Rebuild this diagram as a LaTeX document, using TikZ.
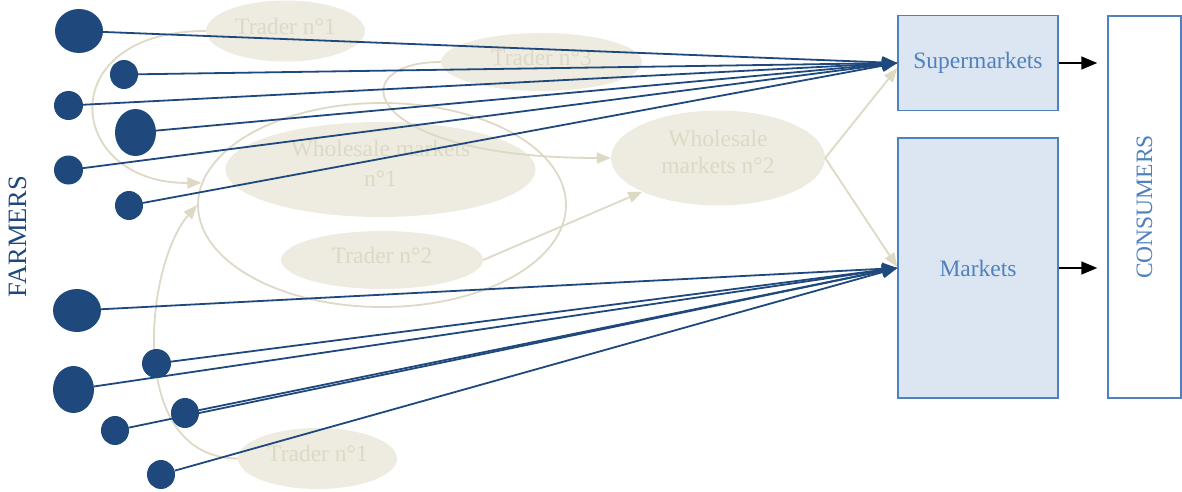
\documentclass[tikz,border=0pt]{standalone}
\usepackage{fontspec}
\setmainfont{Liberation Serif}
\usetikzlibrary{shapes.geometric,arrows.meta}
\definecolor{farmerblue}{RGB}{31,73,125}
\definecolor{ovalfill}{RGB}{238,236,225}
\definecolor{ovalline}{RGB}{221,217,196}
\definecolor{boxline}{RGB}{79,129,189}
\definecolor{boxfill}{RGB}{220,230,242}
\tikzset{
    farmer/.style = {fill=farmerblue, ellipse, inner sep=0pt},
    trader-oval/.style = {fill=ovalfill, ellipse, inner sep=0pt, text=ovalline, text depth=10pt},
    market-oval/.style = {fill=ovalfill, ellipse, inner sep=0pt, text=ovalline, align=center, text depth=12pt},
    channel-box/.style = {draw=boxline, fill=boxfill, line width=1.5pt, rectangle, inner sep=0pt, text=boxline},
    supply/.style = {draw=farmerblue, line width=1.8pt, -{Triangle[length=15pt,width=12pt]}},
    trade/.style = {draw=ovalline, line width=1.8pt, -{Triangle[length=14pt,width=11pt]}},
    sale/.style = {draw=black, line width=1.5pt, -{Triangle[length=16pt,width=13pt]}},
}

\begin{document}
\begin{tikzpicture}[x=1pt, y=-1pt, font=\fontsize{23.5}{27}\selectfont]
\useasboundingbox (0,0) rectangle (1182,492);

\node[trader-oval, minimum width=159pt, minimum height=61pt] (trader1a) at (285.5,31) {Trader n°1};
\node[trader-oval, minimum width=201pt, minimum height=58pt] (trader3) at (541.5,62) {Trader n°3};
\node[market-oval, minimum width=310pt, minimum height=95pt, font=\fontsize{23.5}{30}\selectfont] (wholesale1) at (380.5,169.5) {Wholesale markets\\n°1};
\node[trader-oval, minimum width=202pt, minimum height=58pt] (trader2) at (382,260) {Trader n°2};
\node[market-oval, minimum width=214pt, minimum height=95pt] (wholesale2) at (718,158) {Wholesale\\markets n°2};
\node[trader-oval, minimum width=159pt, minimum height=61pt] (trader1b) at (317.5,458.5) {Trader n°1};
\node[draw=ovalline, line width=1.8pt, ellipse, inner sep=0pt, minimum width=368pt, minimum height=204pt] (ring) at (382,205) {};

\node[channel-box, minimum width=160pt, minimum height=95pt] (super) at (978,63) {Supermarkets};
\node[channel-box, minimum width=160pt, minimum height=260pt] (markets) at (978,268) {Markets};
\node[channel-box, fill=white, minimum width=73pt, minimum height=382pt] (consumers) at (1144.5,207) {};
\node[rotate=90, text=boxline] (consumers-label) at (consumers.center) {CONSUMERS};
\node[rotate=90, text=farmerblue, font=\fontsize{26.5}{30}\selectfont] (farmers) at (17.5,236.5) {FARMERS};

\draw[trade] (trader1a.west) .. controls (50,31) and (65,184) .. (ring.173);
\draw[trade] (trader1b.west) .. controls (125,458) and (145,265) .. (ring.west);
\draw[trade] (trader3.west) .. controls (340,62) and (360,158) .. (wholesale2.west);
\draw[trade] (trader2.east) -- (wholesale2.204);
\draw[trade] (wholesale2.east) -- ([yshift=-5pt]super.west);
\draw[trade] (wholesale2.east) -- ([yshift=1pt]markets.west);

\node[farmer, minimum width=48pt, minimum height=44pt] (f1) at (79,31) {};
\node[farmer, minimum width=28pt, minimum height=29pt] (f2) at (124,74.5) {};
\node[farmer, minimum width=29pt, minimum height=29pt] (f3) at (68.5,105.5) {};
\node[farmer, minimum width=41pt, minimum height=47pt] (f4) at (135.5,132.5) {};
\node[farmer, minimum width=29pt, minimum height=29pt] (f5) at (68.5,170) {};
\node[farmer, minimum width=28pt, minimum height=29pt] (f6) at (129,205.5) {};
\node[farmer, minimum width=48pt, minimum height=43pt] (f7) at (77,310.5) {};
\node[farmer, minimum width=29pt, minimum height=29pt] (f8) at (156.5,363.5) {};
\node[farmer, minimum width=41pt, minimum height=47pt] (f9) at (73.5,389.5) {};
\node[farmer, minimum width=28pt, minimum height=29pt] (f10) at (115,430.5) {};
\node[farmer, minimum width=28pt, minimum height=30pt] (f11) at (185,413) {};
\node[farmer, minimum width=28pt, minimum height=29pt] (f12) at (161,474.5) {};

\draw[supply] (f1) -- (super.west);
\draw[supply] (f2) -- (super.west);
\draw[supply] (f3) -- (super.west);
\draw[supply] (f4) -- (super.west);
\draw[supply] (f5) -- (super.west);
\draw[supply] (f6) -- (super.west);
\draw[supply] (f7) -- (markets.west);
\draw[supply] (f8) -- (markets.west);
\draw[supply] (f9) -- (markets.west);
\draw[supply] (f10) -- (markets.west);
\draw[supply] (f11) -- (markets.west);
\draw[supply] (f12) -- (markets.west);

\draw[sale] (super.east) -- ([xshift=-10pt]super.east -| consumers.west);
\draw[sale] (markets.east) -- ([xshift=-10pt]markets.east -| consumers.west);
\end{tikzpicture}
\end{document}
